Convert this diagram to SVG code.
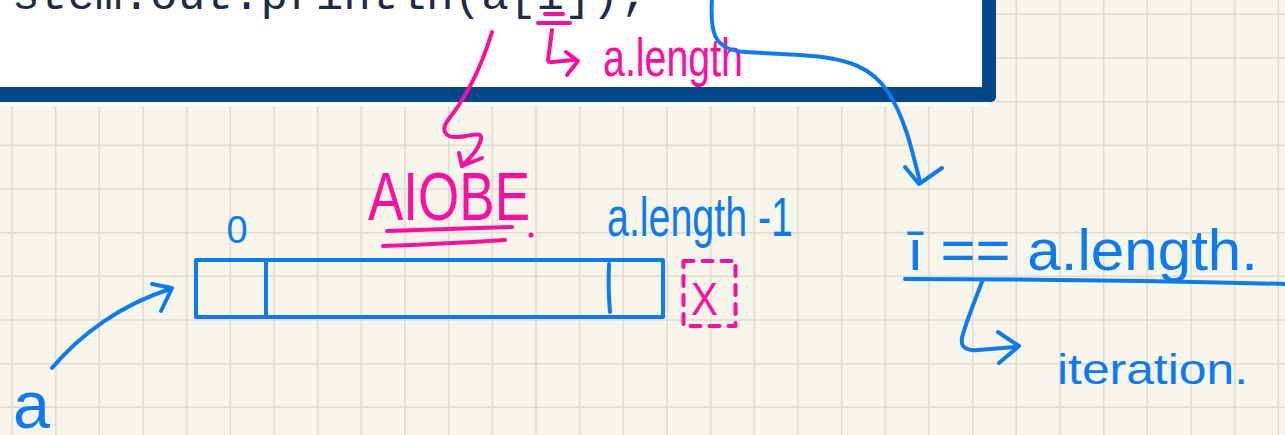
<svg xmlns="http://www.w3.org/2000/svg" width="1285" height="435" viewBox="0 0 1285 435">
<defs>
<style>
.grid{stroke:#E0DDCF;stroke-width:1.6;fill:none}
.blue{stroke:#0B7BF5;stroke-width:4;fill:none;stroke-linecap:round;stroke-linejoin:round}
.pink{stroke:#FF0D9E;stroke-width:4;fill:none;stroke-linecap:round;stroke-linejoin:round}
.hb{fill:#0B7BF5;font-family:"Liberation Sans","DejaVu Sans",sans-serif}
.hp{fill:#FF0D9E;font-family:"Liberation Sans","DejaVu Sans",sans-serif}
.code{fill:#1E2B44;font-family:"Liberation Mono","DejaVu Sans Mono",monospace;font-size:46px}
</style>
</defs>
<rect x="0" y="0" width="1285" height="435" fill="#F7F5E9"/>
<g id="grid">
<path class="grid" d="M12,0V435M55.7,0V435M99.3,0V435M143,0V435M186.7,0V435M230.3,0V435M274,0V435M317.7,0V435M361.3,0V435M405,0V435M448.7,0V435M492.3,0V435M536,0V435M579.7,0V435M623.3,0V435M667,0V435M710.7,0V435M754.3,0V435M798,0V435M841.7,0V435M885.3,0V435M929,0V435M972.7,0V435M1016.3,0V435M1060,0V435M1103.7,0V435M1147.3,0V435M1191,0V435M1234.7,0V435M1278.3,0V435"/>
<path class="grid" d="M0,14.3H1285M0,58H1285M0,101.7H1285M0,145.3H1285M0,189H1285M0,232.7H1285M0,276.3H1285M0,320H1285M0,363.7H1285M0,407.3H1285"/>
</g>
<g id="code-panel">
<rect x="-2" y="98" width="990" height="8" fill="#FFFFFF"/>
<rect x="-20" y="-20" width="1016" height="122" rx="5" fill="#03468C"/>
<rect x="-20" y="-20" width="1002" height="107" fill="#FFFFFF"/>
<text class="code" x="12" y="9">stem.out.println(a[i]);</text>
</g>
<g id="array">
<rect class="blue" x="196" y="260" width="467" height="57" stroke-width="4.5"/>
<path class="blue" d="M266,262 L266,317"/>
<path class="blue" d="M609,264 Q608,290 610,312"/>
</g>
<g id="label-0"><text class="hb" x="237" y="243" font-size="38" text-anchor="middle">0</text></g>
<g id="label-a"><text class="hb" x="13" y="428" font-size="66" textLength="37" lengthAdjust="spacingAndGlyphs">a</text></g>
<g id="label-last"><text class="hb" x="607" y="236" font-size="56" textLength="186" lengthAdjust="spacingAndGlyphs">a.length -1</text></g>
<g id="out-of-bounds">
<rect class="pink" x="683.5" y="261" width="52" height="65" stroke-width="3.5" stroke-dasharray="10 9"/>
<text class="hp" x="691" y="315" font-size="46" textLength="27" lengthAdjust="spacingAndGlyphs">X</text>
</g>
<g id="aiobe">
<text class="hp" x="368" y="220" font-size="68" textLength="162" lengthAdjust="spacingAndGlyphs">AIOBE</text>
<path class="pink" d="M387,231 L512,227"/>
<path class="pink" d="M383,246 Q440,244 505,240"/>
<circle cx="531" cy="235" r="2.5" fill="#FF0D9E"/>
</g>
<g id="i-note">
<path class="pink" d="M545,14 L563,14"/>
<path class="pink" d="M538,23 L570,23"/>
<text class="hp" x="603" y="76" font-size="54" textLength="140" lengthAdjust="spacingAndGlyphs">a.length</text>
</g>
<g id="condition">
<text class="hb" x="907" y="270" font-size="58" textLength="351" lengthAdjust="spacingAndGlyphs">ī == a.length.</text>
<path class="blue" d="M905,279 Q1090,279 1285,284"/>
</g>
<g id="iteration"><text class="hb" x="1057" y="384" font-size="42" textLength="191" lengthAdjust="spacingAndGlyphs">iteration.</text></g>
<g id="connectors">
<path class="pink" d="M492,32 C482,65 468,95 448,120 C440,131 446,138 458,137 C470,136 483,131 481,139 C479,149 470,158 462,166"/>
<path class="pink" d="M459,153 L462,166 L482,158"/>
<path class="pink" d="M552,30 L548,60 Q548,63 552,62 L574,60"/>
<path class="pink" d="M566,52 L578,61 L567,75"/>
<path class="blue" d="M52,368 C80,335 120,305 170,289"/>
<path class="blue" d="M152,284 L172,288 L161,311"/>
<path class="blue" d="M712,-2 C710,30 712,50 745,52 L800,55 C850,58 872,68 888,92 C905,118 912,150 920,182"/>
<path class="blue" d="M905,167 L919,184 L942,168"/>
<path class="blue" d="M982,282 C975,300 965,325 962,338 C960,348 968,351 978,350 L1015,347"/>
<path class="blue" d="M998,332 L1019,346 L999,363"/>
</g>
</svg>
